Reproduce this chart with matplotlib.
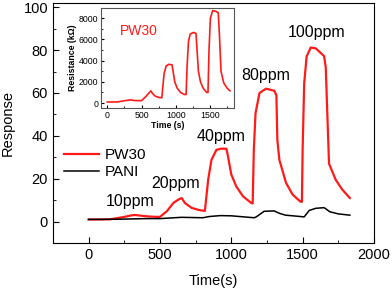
import matplotlib.pyplot as plt

plt.rcParams['font.family'] = ['Liberation Sans', 'DejaVu Sans']

# main curves: response vs time
t_pw30 = [0, 100, 150, 200, 250, 300, 320, 360, 420, 480, 500, 548, 594, 630, 652,
          675, 722, 780, 815, 838, 861, 896, 930, 966, 977, 1000, 1035, 1082, 1140, 1150,
          1158, 1170, 1198, 1244, 1302, 1316, 1323, 1337, 1384, 1430, 1483, 1495,
          1500, 1511, 1528, 1557, 1592, 1650, 1662, 1685, 1732, 1778, 1831]
r_pw30 = [1.0, 1.0, 1.1, 1.6, 2.2, 2.9, 3.1, 2.8, 2.4, 2.2, 2.2, 4.8, 8.7, 10.3, 11.0,
          8.7, 6.4, 5.3, 5.0, 19.5, 28.8, 33.5, 34.0, 34.0, 30.4, 22.0, 16.4, 11.8, 8.7, 8.5,
          33.5, 50.6, 60.0, 62.0, 61.0, 59.0, 38.0, 28.8, 18.0, 12.6, 9.4, 9.2,
          33.5, 64.5, 77.0, 81.2, 80.8, 77.2, 72.0, 27.0, 19.5, 14.9, 11.0]

t_pani = [0, 200, 400, 500, 650, 800, 850, 925, 1000, 1160, 1175, 1230, 1300, 1340,
          1380, 1480, 1511, 1546, 1592, 1650, 1662, 1690, 1750, 1831]
r_pani = [1.0, 1.1, 1.4, 1.4, 2.0, 1.8, 2.4, 2.8, 2.7, 1.8, 2.2, 4.8, 5.0, 3.8,
          3.0, 2.4, 2.2, 5.2, 6.2, 6.5, 6.0, 4.6, 3.6, 3.0]

# inset: resistance (kOhm) of PW30
t_inset = [0, 150, 250, 335, 400, 480, 500, 560, 636, 660, 700, 760, 796, 810, 830,
           860, 900, 945, 960, 985, 1020, 1070, 1120, 1150, 1165, 1185, 1210, 1260,
           1295, 1310, 1330, 1360, 1400, 1451, 1470, 1485, 1505, 1538, 1580, 1620,
           1640, 1660, 1700, 1750, 1790]
r_inset = [100, 110, 220, 300, 240, 230, 230, 600, 1150, 900, 650, 520, 500, 1500, 2800,
           3500, 3650, 3600, 3000, 2000, 1400, 1000, 820, 800, 3500, 5800, 6500, 6650,
           6550, 5000, 3000, 2000, 1400, 1000, 1000, 5000, 8000, 8700, 8650, 8500,
           6000, 3000, 1900, 1400, 1160]

labels = ['10ppm', '20ppm', '40ppm', '80ppm', '100ppm']
label_x = [292, 613, 926, 1240, 1595]
label_y = [9.3, 18, 39.5, 68, 88]

red = '#ff1a1a'

fig = plt.figure(figsize=(3.92, 2.89), dpi=100)
ax = fig.add_axes([0.135, 0.159, 0.819, 0.831])

ax.plot(t_pw30, r_pw30, color=red, lw=1.6, label='PW30')
ax.plot(t_pani, r_pani, color='black', lw=1.1, label='PANI')

for s, x, y in zip(labels, label_x, label_y):
    ax.text(x, y, s, fontsize=11.5, ha='center', va='center')

ax.set_xlim(-250, 2000)
ax.set_ylim(-10, 102)
ax.set_xticks([0, 500, 1000, 1500, 2000])
ax.set_xticks([250, 750, 1250, 1750], minor=True)
ax.set_yticks([0, 20, 40, 60, 80, 100])
ax.set_yticks([10, 30, 50, 70, 90], minor=True)
ax.tick_params(direction='in', labelsize=10.5, length=4, top=False, right=False)
ax.tick_params(which='minor', direction='in', length=2.5)
ax.set_xlabel('Time(s)', fontsize=10.5, labelpad=9)
ax.set_ylabel('Response', fontsize=10.5, labelpad=6)
ax.legend(loc='upper left', bbox_to_anchor=(0.0, 0.44), frameon=False, fontsize=11,
          handlelength=2.3, handletextpad=0.4, labelspacing=0.2, borderaxespad=0.3)

# inset
axi = fig.add_axes([0.258, 0.626, 0.339, 0.346])
axi.plot(t_inset, r_inset, color=red, lw=1.2)
axi.text(0.14, 0.77, 'PW30', transform=axi.transAxes, color=red, fontsize=10,
         va='center')
axi.set_xlim(-90, 1850)
axi.set_ylim(-470, 8940)
axi.set_xticks([0, 500, 1000, 1500])
axi.set_xticks([250, 750, 1250, 1750], minor=True)
axi.set_yticks([0, 2000, 4000, 6000, 8000])
axi.set_yticks([1000, 3000, 5000, 7000], minor=True)
axi.tick_params(direction='in', labelsize=6.3, length=2.5, pad=2)
axi.tick_params(which='minor', direction='in', length=1.5)
axi.set_xlabel('Time (s)', fontsize=6.3, fontweight='bold', labelpad=1)
axi.set_ylabel('Resistance (k\u03a9)', fontsize=6.3, fontweight='bold', labelpad=1)
for sp in axi.spines.values():
    sp.set_color('#555555')
    sp.set_linewidth(0.8)

plt.savefig('out.png', dpi=100)
